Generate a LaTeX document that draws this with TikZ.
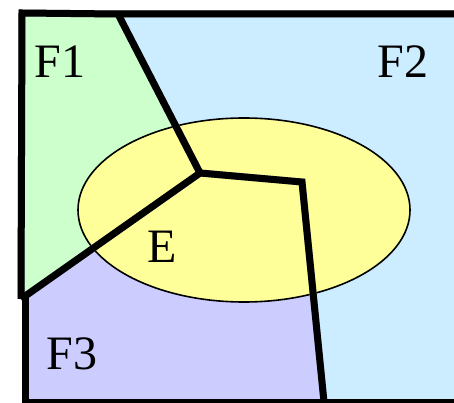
\documentclass[tikz,border=0pt]{standalone}
\usepackage{fontspec}
\setmainfont{Liberation Serif}

\definecolor{faceone}{HTML}{CCFFCC}
\definecolor{facetwo}{HTML}{CCECFF}
\definecolor{facethree}{HTML}{CCCCFF}
\definecolor{ellfill}{HTML}{FFFF99}

\begin{document}
\begin{tikzpicture}[x=1pt, y=-1pt,
    edge/.style={line width=7pt, line join=miter, line cap=butt},
    shade/.style={edge, black!35, shift={(1.5,1.5)}},
    lbl/.style={font=\fontsize{48}{48}\selectfont, inner sep=0pt}]
    \useasboundingbox (0,0) rectangle (454,403);

    % 顶点
    \coordinate (tl) at (22,13);
    \coordinate (tm) at (118,14);
    \coordinate (tr) at (454,14);
    \coordinate (ml) at (21,299);
    \coordinate (ml2) at (25,296);
    \coordinate (bl) at (25,402);
    \coordinate (br) at (454,402);
    \coordinate (bm) at (324,402);
    \coordinate (cv) at (200,173);
    \coordinate (rv) at (302,182);

    % 面 F1, F2, F3
    \fill[faceone] (tl) -- (tm) -- (cv) -- (ml) -- cycle;
    \fill[facetwo] (tm) -- (tr) -- (br) -- (bm) -- (rv) -- (cv) -- cycle;
    \fill[facethree] (ml) -- (cv) -- (rv) -- (bm) -- (bl) -- (ml2) -- cycle;

    % 椭圆 E
    \draw[fill=ellfill, line width=1.6pt] (244,210) ellipse [x radius=166, y radius=92];

    % 阴影
    \draw[shade] (ml) -- (tl) -- (tm) -- (tr);
    \draw[shade] (ml2) -- (bl) -- (br);
    \draw[shade] (tm) -- (cv) -- (rv) -- (bm);
    \draw[shade] (cv) -- (ml);

    % 边界
    \draw[edge] (ml) -- (tl) -- (tm) -- (tr);
    \draw[edge] (ml2) -- (bl) -- (br);
    \draw[edge] (tm) -- (cv) -- (rv) -- (bm);
    \draw[edge] (cv) -- (ml);

    % 标签
    \node[lbl] (f1) at (60,62) {F1};
    \node[lbl] (f2) at (403,62) {F2};
    \node[lbl] (e) at (162,247) {E};
    \node[lbl] (f3) at (72,354) {F3};
\end{tikzpicture}
\end{document}
